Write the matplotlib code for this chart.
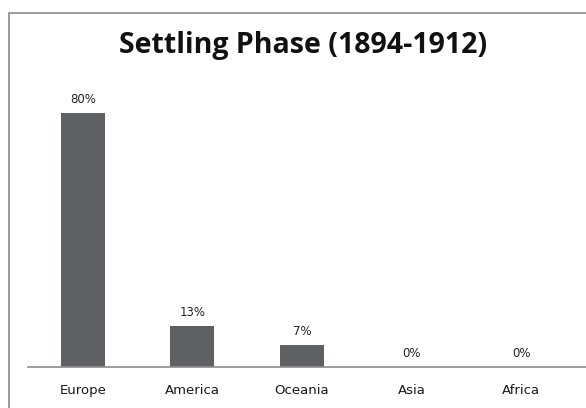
import matplotlib
matplotlib.use('Agg')
import matplotlib.pyplot as plt
from matplotlib.patches import Rectangle
from matplotlib.lines import Line2D

# Data
regions = ['Europe', 'America', 'Oceania', 'Asia', 'Africa']
shares = [80, 13, 7, 0, 0]
labels = ['80%', '13%', '7%', '0%', '0%']

fig = plt.figure(figsize=(5.86, 4.08), dpi=100)
ax = fig.add_axes([28 / 586, 0.1005, 548 / 586, 0.70])

bar_color = '#5f6064'
ax.bar(range(len(regions)), shares, width=0.4, color=bar_color)
ax.set_xlim(-0.5, len(regions) - 0.5)
ax.set_ylim(0, 90)

for i, (v, lab) in enumerate(zip(shares, labels)):
    ax.annotate(lab, (i, v), xytext=(0, 5), textcoords='offset points',
                ha='center', va='bottom', fontsize=8.5, color='#222222',
                family='DejaVu Sans')

ax.set_xticks(range(len(regions)))
ax.set_xticklabels(regions, fontsize=9.5, color='#1a1a1a', family='DejaVu Sans')
ax.tick_params(axis='x', length=0, pad=12)
ax.set_yticks([])
for s in ['top', 'right', 'left', 'bottom']:
    ax.spines[s].set_visible(False)

# baseline runs to the right edge of the chart
base_y = 0.1005
fig.add_artist(Line2D([28 / 586, 1.0], [base_y, base_y], transform=fig.transFigure,
                      color='#8c8c8c', linewidth=1.2))

fig.text(303 / 586, 1 - 45 / 408, 'Settling Phase (1894-1912)', ha='center', va='center',
         fontsize=20.5, fontweight='bold', family='Open Sans', color='#111111')

# outer chart frame (top and left edges visible)
frame = Rectangle((9 / 586, -0.05), 1.0, 1 - 13 / 408 + 0.05, transform=fig.transFigure,
                  fill=False, edgecolor='#8a8a8a', linewidth=1.2, clip_on=False)
fig.add_artist(frame)

fig.savefig('out.png', dpi=100)
